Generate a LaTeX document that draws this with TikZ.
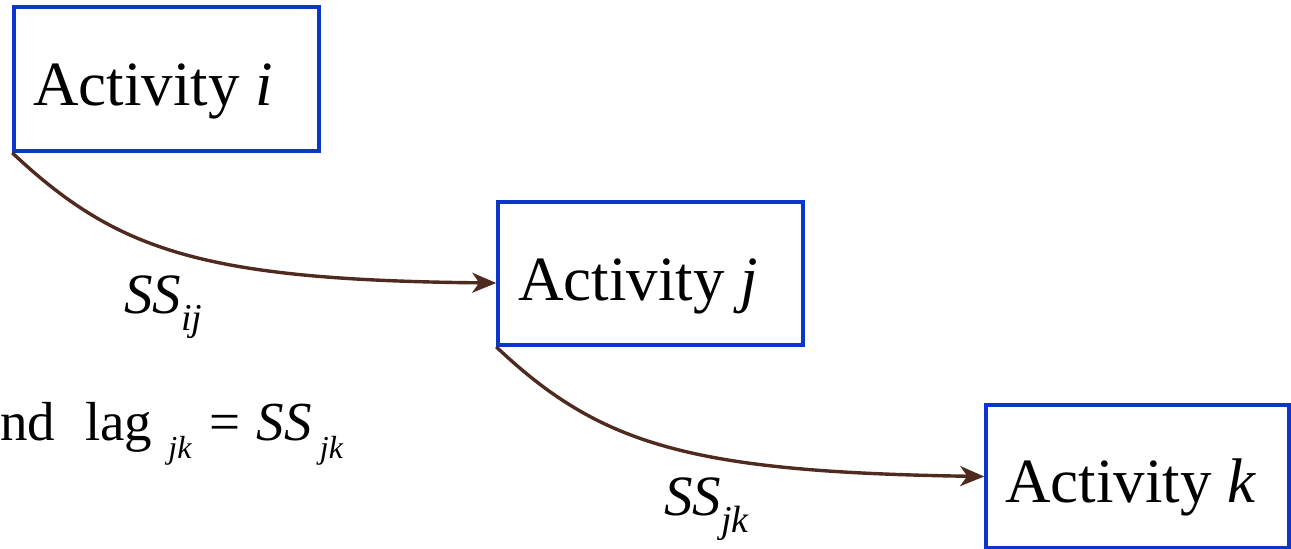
\documentclass[tikz,border=0pt]{standalone}
\usepackage{fontspec}
\setmainfont{Liberation Serif}
\usetikzlibrary{arrows.meta}
\definecolor{boxblue}{HTML}{0A36CC}
\definecolor{arrbrown}{HTML}{4F2A1F}
\tikzset{
  actbox/.style={draw=boxblue, line width=3.6pt, rectangle, inner sep=0pt},
  acttext/.style={anchor=base west, inner sep=0pt, font=\fontsize{63}{70}\selectfont},
  conn/.style={draw=arrbrown, line width=3.4pt, -{Stealth[length=24pt,width=20pt,inset=7pt]}},
  lagtext/.style={anchor=base west, inner sep=0pt, font=\fontsize{57}{62}\selectfont},
}
\newcommand{\subs}[3]{\raisebox{#1}{\fontsize{#2}{#2}\selectfont\textit{#3}}}
\begin{document}
\begin{tikzpicture}[x=1pt,y=-1pt]
\useasboundingbox (0,0) rectangle (1291,549);
\node[actbox, minimum width=305pt, minimum height=144pt] (i) at (166.5,79) {};
\node[actbox, minimum width=305pt, minimum height=143pt] (j) at (650.5,273.5) {};
\node[actbox, minimum width=303pt, minimum height=143pt] (k) at (1137.5,476.5) {};
\node[acttext] (ti) at (33,105) {Activity \textit{i}};
\node[acttext] (tj) at (518,300) {Activity \textit{j}};
\node[acttext] (tk) at (1005,502) {Activity \textit{k}};
\draw[conn] (i.south west) .. controls (116,250) and (200,280) .. ([yshift=-9.5pt]j.west);
\draw[conn] (j.south west) .. controls (600,445) and (690,472) .. (k.west);
\node[lagtext] (lij) at (124,313) {\textit{SS}\subs{-17pt}{38}{ij}};
\node[lagtext] (ljk) at (664,515) {\textit{SS}\subs{-17pt}{38}{jk}};
\node[anchor=base west, inner sep=0pt, font=\fontsize{55}{60}\selectfont] (eq) at (0,440)
  {nd\hspace{30pt}lag\hspace{16pt}\subs{-18pt}{32}{jk}\hspace{18pt}=\hspace{16pt}\textit{SS}\hspace{8pt}\subs{-18pt}{32}{jk}};
\end{tikzpicture}
\end{document}
